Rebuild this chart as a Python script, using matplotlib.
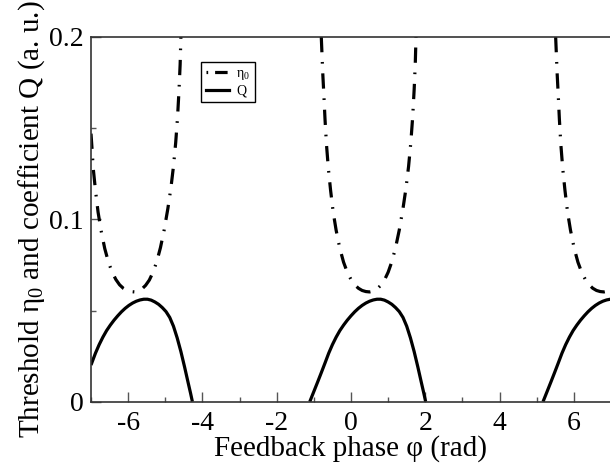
import matplotlib
matplotlib.use("Agg")
import matplotlib.pyplot as plt
from matplotlib.lines import Line2D

plt.rcParams['font.family'] = ['Liberation Serif', 'DejaVu Serif']
plt.rcParams['mathtext.fontset'] = 'custom'
plt.rcParams['mathtext.rm'] = 'Liberation Serif'
plt.rcParams['mathtext.it'] = 'Liberation Serif'
plt.rcParams['mathtext.bf'] = 'Liberation Serif:bold'
plt.rcParams['lines.scale_dashes'] = False

# ---- data ----
# coefficient Q, three visible lobes
q_left_phase = [-7.00, -6.88, -6.78, -6.68, -6.58, -6.48, -6.38, -6.28, -6.18, -6.08, -5.98,
                -5.88, -5.78, -5.68, -5.58, -5.48, -5.38, -5.28, -5.18, -5.08, -4.98, -4.88,
                -4.78, -4.68, -4.58, -4.48, -4.38, -4.32, -4.27]
q_left = [0.0201, 0.0266, 0.0313, 0.0354, 0.0390, 0.0420, 0.0447, 0.0471, 0.0493, 0.0512, 0.0528,
          0.0541, 0.0551, 0.0558, 0.0562, 0.0562, 0.0557, 0.0547, 0.0534, 0.0516, 0.0494, 0.0462,
          0.0414, 0.0350, 0.0275, 0.0190, 0.0100, 0.0047, 0.0]

q_mid_phase = [-1.11, -1.00, -0.90, -0.80, -0.70, -0.60, -0.50, -0.40, -0.30, -0.20, -0.10,
               0.00, 0.10, 0.20, 0.30, 0.40, 0.50, 0.60, 0.70, 0.80, 0.90, 1.00, 1.10, 1.20,
               1.30, 1.40, 1.50, 1.60, 1.70, 1.80, 1.90, 1.96, 2.01]
q_mid = [0.0, 0.0056, 0.0107, 0.0159, 0.0212, 0.0266, 0.0313, 0.0354, 0.0390, 0.0420, 0.0447,
         0.0471, 0.0493, 0.0512, 0.0528, 0.0541, 0.0551, 0.0558, 0.0562, 0.0562, 0.0557, 0.0547,
         0.0534, 0.0516, 0.0494, 0.0462, 0.0414, 0.0350, 0.0275, 0.0190, 0.0100, 0.0047, 0.0]

q_right_phase = [5.17, 5.28, 5.38, 5.48, 5.58, 5.68, 5.78, 5.88, 5.98, 6.08, 6.18, 6.28, 6.38,
                 6.48, 6.58, 6.68, 6.78, 6.88, 6.98, 7.08]
q_right = [0.0, 0.0056, 0.0107, 0.0159, 0.0212, 0.0266, 0.0313, 0.0354, 0.0390, 0.0420, 0.0447,
           0.0471, 0.0493, 0.0512, 0.0528, 0.0541, 0.0551, 0.0558, 0.0562, 0.0562]

# threshold eta_0, three visible branches
eta_left_phase = [-7.00, -6.97, -6.94, -6.88, -6.81, -6.73, -6.63, -6.53, -6.43, -6.33, -6.23,
                  -6.13, -6.03, -5.93, -5.83, -5.73, -5.63, -5.53, -5.43, -5.33, -5.23, -5.13,
                  -5.03, -4.93, -4.85, -4.78, -4.72, -4.67, -4.63, -4.60, -4.58]
eta_left = [0.147, 0.138, 0.128, 0.116, 0.104, 0.094, 0.084, 0.0765, 0.0710, 0.0670, 0.0641,
            0.0622, 0.0610, 0.0604, 0.0602, 0.0606, 0.0618, 0.0638, 0.0667, 0.0710, 0.0768, 0.0845,
            0.0942, 0.1060, 0.1170, 0.1290, 0.1420, 0.1560, 0.1710, 0.1850, 0.2000]

eta_mid_phase = [-0.80, -0.78, -0.76, -0.73, -0.70, -0.66, -0.61, -0.55, -0.48, -0.40, -0.30,
                 -0.20, -0.10, 0.00, 0.10, 0.20, 0.30, 0.40, 0.50, 0.60, 0.70, 0.80, 0.90, 1.00,
                 1.10, 1.20, 1.30, 1.40, 1.48, 1.55, 1.61, 1.66, 1.70, 1.73, 1.75]
eta_mid = [0.200, 0.190, 0.180, 0.168, 0.155, 0.141, 0.128, 0.116, 0.104, 0.094, 0.084,
           0.0765, 0.0710, 0.0670, 0.0641, 0.0622, 0.0610, 0.0604, 0.0602, 0.0606, 0.0618, 0.0638,
           0.0667, 0.0710, 0.0768, 0.0845, 0.0942, 0.1060, 0.1170, 0.1290, 0.1420, 0.1560, 0.1710,
           0.1850, 0.2000]

eta_right_phase = [5.51, 5.53, 5.55, 5.58, 5.61, 5.65, 5.70, 5.76, 5.83, 5.91, 6.01, 6.11, 6.21,
                   6.31, 6.41, 6.51, 6.61, 6.71, 6.81, 6.91, 7.01, 7.11]
eta_right = [0.200, 0.190, 0.180, 0.168, 0.155, 0.141, 0.128, 0.116, 0.104, 0.094, 0.084, 0.0765,
             0.0710, 0.0670, 0.0641, 0.0622, 0.0610, 0.0604, 0.0602, 0.0606, 0.0618, 0.0638]

x_ticks = [-6, -4, -2, 0, 2, 4, 6]
y_ticks = [0, 0.1, 0.2]
y_tick_labels = ['0', '0.1', '0.2']

# ---- figure ----
W, H = 610, 465
fig = plt.figure(figsize=(W / 100, H / 100), dpi=100)
ax = fig.add_axes([91 / W, (H - 401.7) / H, 520 / W, 364.7 / H])

lw = 2.3
dash = (0, (11, 7, 1.2, 7))
for xs, ys in [(eta_left_phase, eta_left), (eta_mid_phase, eta_mid), (eta_right_phase, eta_right)]:
    ax.plot(xs, ys, color='black', lw=lw, linestyle=dash, dash_capstyle='butt')
for xs, ys in [(q_left_phase, q_left), (q_mid_phase, q_mid), (q_right_phase, q_right)]:
    ax.plot(xs, ys, color='black', lw=lw, solid_capstyle='butt', solid_joinstyle='round')

ax.set_xlim(-7, 7)
ax.set_ylim(0, 0.2)
ax.set_xticks(x_ticks)
ax.set_xticklabels([str(v) for v in x_ticks])
ax.set_xticks([-7, -5, -3, -1, 1, 3, 5, 7], minor=True)
ax.set_yticks(y_ticks)
ax.set_yticklabels(y_tick_labels)
ax.set_yticks([0.05, 0.15], minor=True)

ax.tick_params(which='both', direction='in', color='#555555', width=1.0, labelsize=20,
               top=False, right=False)
ax.tick_params(which='major', length=7)
ax.tick_params(which='minor', length=3.5)
ax.tick_params(axis='x', which='major', pad=7)
ax.tick_params(axis='y', which='major', pad=5)

for s in ax.spines.values():
    s.set_linewidth(1.2)
    s.set_color('#333333')

ax.set_xlabel('Feedback phase φ (rad)', fontsize=21, labelpad=-1)
ax.set_ylabel('Threshold $η_0$ and coefficient Q (a. u.)', fontsize=21, labelpad=2)

h1 = Line2D([], [], color='black', lw=lw, linestyle=(0, (1.2, 5, 9, 6)), dash_capstyle='butt')
h2 = Line2D([], [], color='black', lw=lw)
leg = ax.legend([h1, h2], ['$η_0$', 'Q'], loc='upper left',
                bbox_to_anchor=((201 - 91) / 520, (401.7 - 62) / 364.7), borderaxespad=0,
                fontsize=10, handlelength=1.7, handletextpad=0.5, borderpad=0.35,
                labelspacing=0.2, fancybox=False, framealpha=1, edgecolor='black')
leg.get_frame().set_linewidth(1.0)

fig.savefig('out.png', dpi=100)
